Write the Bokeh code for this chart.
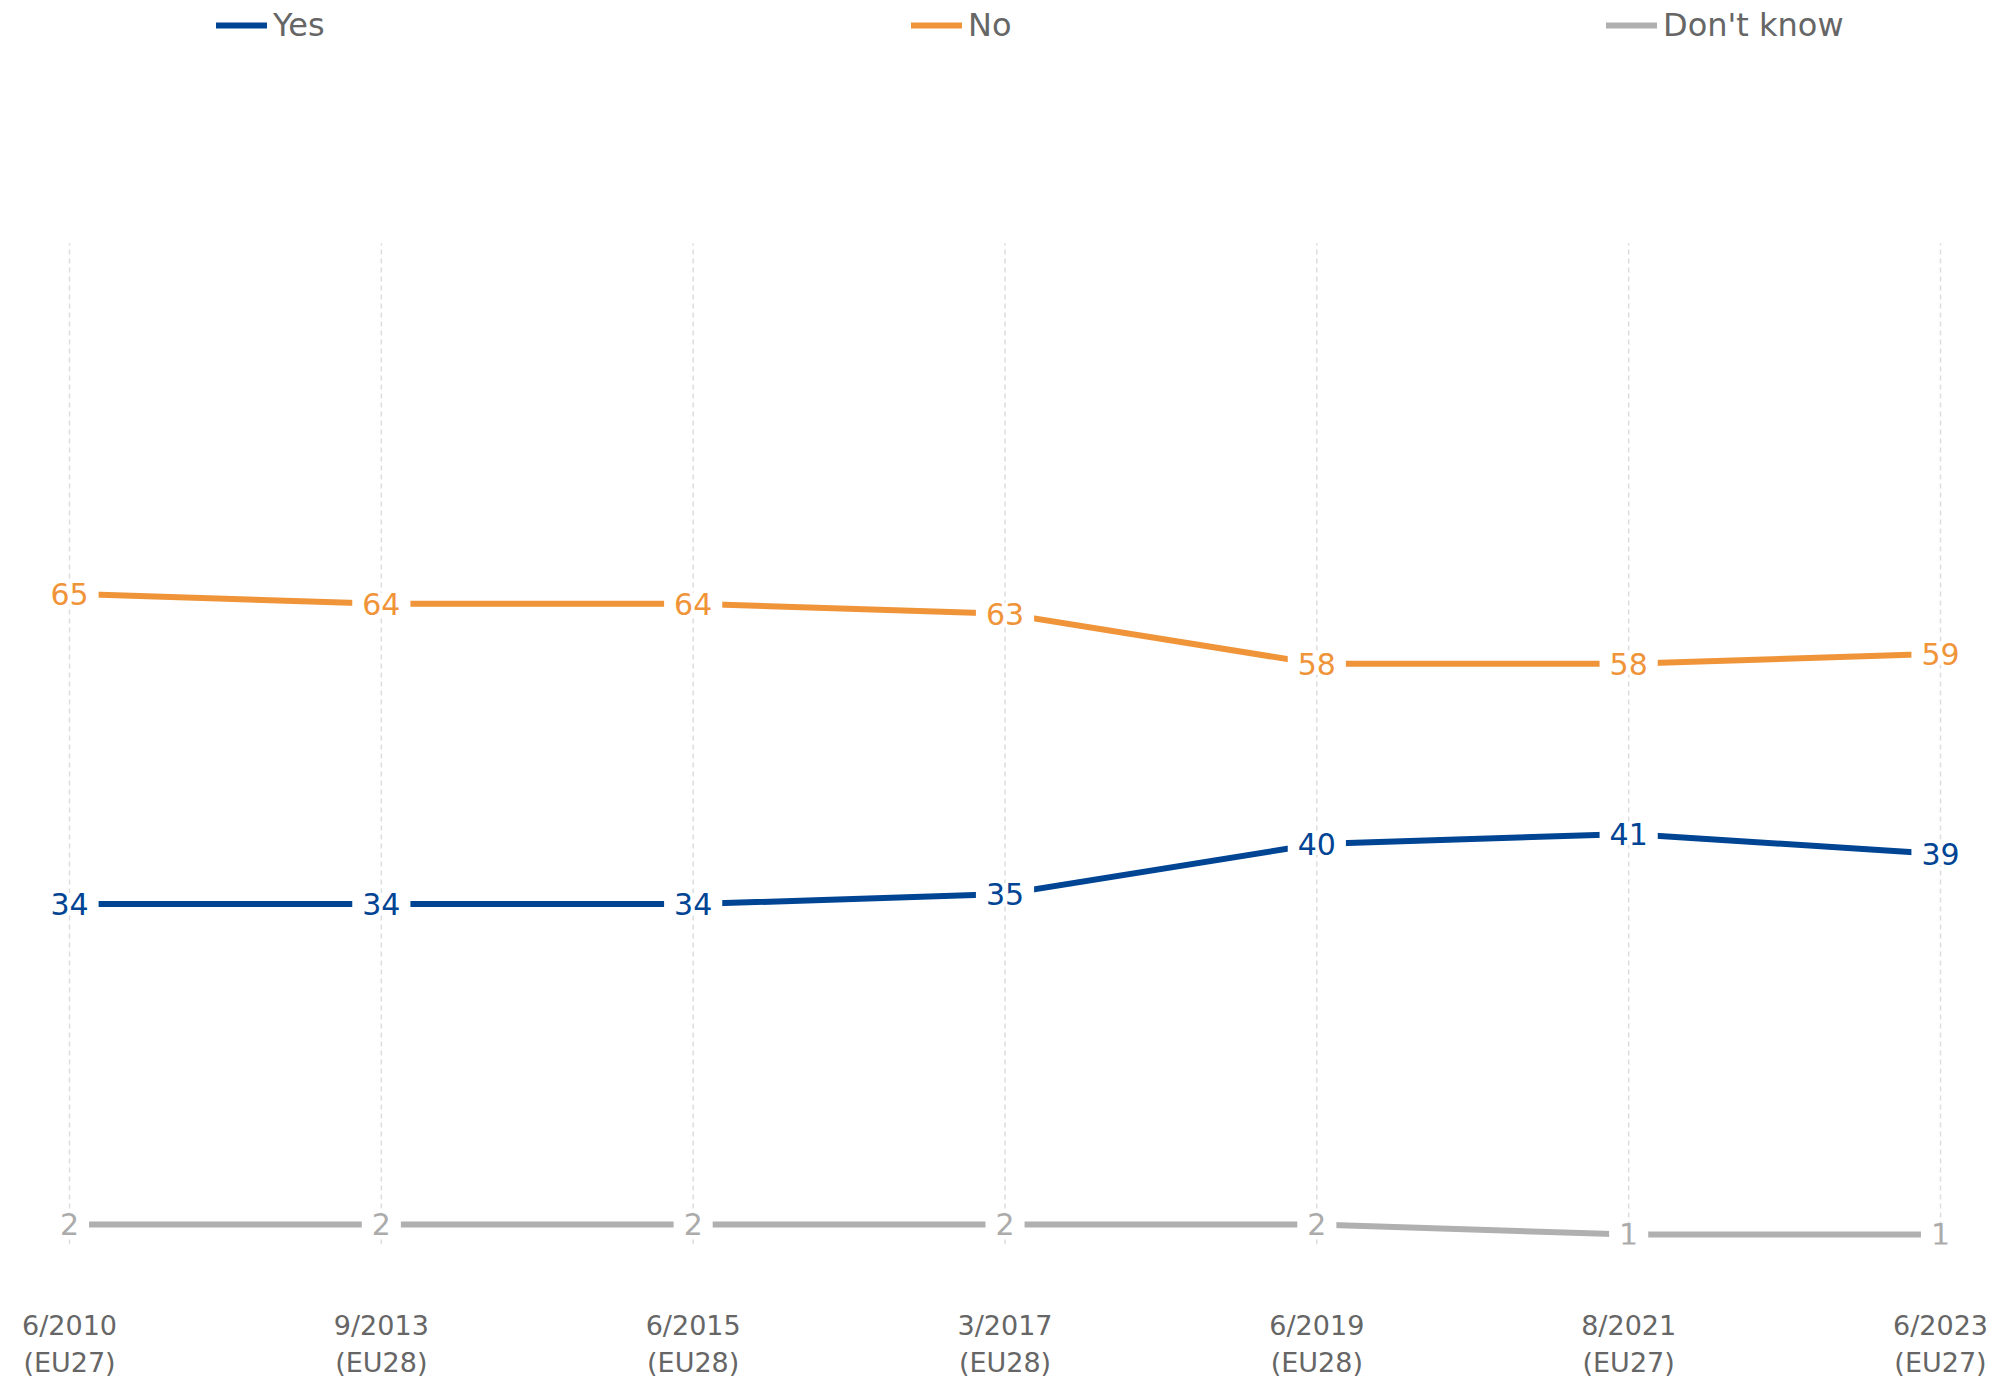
from bokeh.plotting import figure
from bokeh.models import Range1d, FixedTicker, Legend, LegendItem
from bokeh.core.properties import value
from bokeh.embed import file_html
from bokeh.resources import INLINE

# ---- data ----
periods = ["6/2010\n(EU27)", "9/2013\n(EU28)", "6/2015\n(EU28)", "3/2017\n(EU28)",
           "6/2019\n(EU28)", "8/2021\n(EU27)", "6/2023\n(EU27)"]
yes = [34, 34, 34, 35, 40, 41, 39]
no = [65, 64, 64, 63, 58, 58, 59]
dont_know = [2, 2, 2, 2, 2, 1, 1]
series_names = ["Yes", "No", "Don't know"]
series_values = [yes, no, dont_know]

# ---- style ----
FONT = "DejaVu Sans"
line_colors = ["#004494", "#F0943A", "#B0B0B0"]
text_colors = ["#004494", "#F0943A", "#ABABAB"]
Y_MAX = 100

xs = list(range(len(periods)))

p = figure(width=1997, height=1380, output_backend="svg", toolbar_location=None,
           x_range=Range1d(-0.2213, 6.1828), y_range=Range1d(0, 124.25),
           y_axis_location=None,
           min_border_left=0, min_border_right=0, min_border_top=0, min_border_bottom=135)
p.outline_line_color = None
p.xgrid.visible = False
p.ygrid.visible = False
p.background_fill_color = "white"
p.border_fill_color = "white"

ax = p.xaxis[0]
ax.ticker = FixedTicker(ticks=xs)
ax.major_label_overrides = {i: lab for i, lab in enumerate(periods)}
ax.axis_line_color = None
ax.major_tick_line_color = None
ax.minor_tick_line_color = None
ax.major_tick_out = 0
ax.major_tick_in = 0
ax.major_label_standoff = 65
ax.major_label_text_font = FONT
ax.major_label_text_font_size = "27px"
ax.major_label_text_color = "#666666"

# vertical dashed grid lines at each period
p.segment(x0=xs, y0=[0] * len(xs), x1=xs, y1=[Y_MAX] * len(xs),
          line_color="#DDDDDD", line_width=1.5, line_dash="5 4")

renderers = []
for vals, lc in zip(series_values, line_colors):
    r = p.line(xs, vals, line_color=lc, line_width=6, line_cap="round")
    renderers.append(r)

for vals, tc in zip(series_values, text_colors):
    p.text(x=xs, y=vals, text=[str(v) for v in vals],
           text_align="center", text_baseline="middle",
           text_color=tc, text_font=value(FONT), text_font_size="30px",
           background_fill_color="white", padding=dict(x=10, y=0))

legend = Legend(
    items=[LegendItem(label=n, renderers=[r]) for n, r in zip(series_names, renderers)],
    orientation="horizontal", location=(216, 1200),
    glyph_width=51, glyph_height=20, label_standoff=6, label_width=628, spacing=10,
    padding=0, margin=0, border_line_color=None, background_fill_alpha=0,
    label_text_font=FONT, label_text_font_size="32px", label_text_color="#666666",
)
p.add_layout(legend)

open("out.html", "w").write(file_html(p, INLINE))
